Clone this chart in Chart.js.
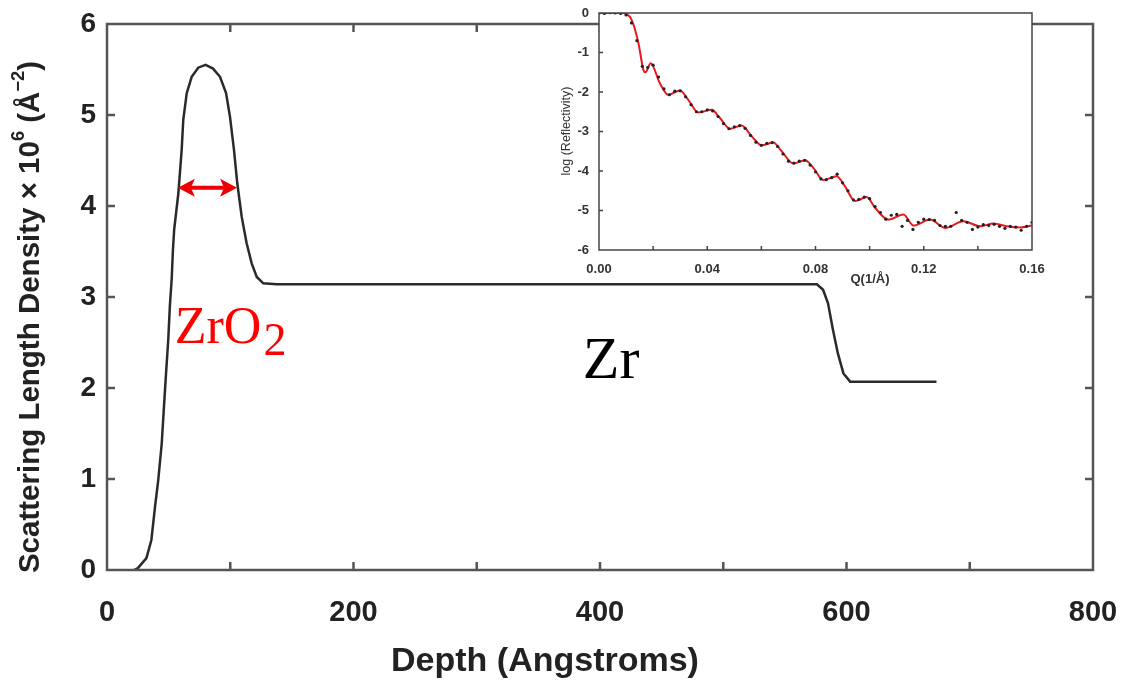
<!DOCTYPE html>
<html>
<head>
<meta charset="utf-8">
<script src="https://cdn.jsdelivr.net/npm/chart.js@4.4.1/dist/chart.umd.min.js"></script>
<style>
  html, body { margin: 0; padding: 0; background: #fff; }
  #wrap { position: relative; width: 1122px; height: 686px; }
  #main { position: absolute; left: 0; top: 0; }
  #inset { position: absolute; left: 540px; top: 0; }
</style>
</head>
<body>
<div id="wrap">
  <canvas id="main" width="1122" height="686"></canvas>
  <canvas id="inset" width="530" height="295"></canvas>
</div>
<script>
// SLD profile (depth in Angstroms, SLD x 1e6)
const depth = [22, 25, 32, 36, 39, 41.6, 44.4, 46.2, 47.9, 49.7, 51, 52.5, 53.5, 54.5, 57.9, 60.6, 61.9, 64.7, 68.7, 74, 80, 86, 91.7, 96.6, 99.8, 103, 105.7, 109.3, 113.3, 117.4, 121.5, 126.8, 137.7, 576, 581, 585, 589, 593, 597.5, 603, 673];
const sld = [0, 0.02, 0.13, 0.33, 0.70, 0.99, 1.39, 1.79, 2.16, 2.53, 2.9, 3.2, 3.52, 3.74, 4.14, 4.62, 4.95, 5.24, 5.42, 5.52, 5.55, 5.51, 5.42, 5.24, 4.98, 4.62, 4.25, 3.88, 3.59, 3.37, 3.22, 3.15, 3.14, 3.14, 3.08, 2.93, 2.64, 2.38, 2.16, 2.07, 2.07];

// inset: reflectivity data (black dots)
const qData = [0.000, 0.002, 0.004, 0.006, 0.008, 0.010, 0.012, 0.014, 0.016, 0.018, 0.020, 0.022, 0.024, 0.026, 0.028, 0.030, 0.032, 0.034, 0.036, 0.038, 0.040, 0.042, 0.044, 0.046, 0.048, 0.050, 0.052, 0.054, 0.056, 0.058, 0.060, 0.062, 0.064, 0.066, 0.068, 0.070, 0.072, 0.074, 0.076, 0.078, 0.080, 0.082, 0.084, 0.086, 0.088, 0.090, 0.092, 0.094, 0.096, 0.098, 0.100, 0.102, 0.104, 0.106, 0.108, 0.110, 0.112, 0.114, 0.116, 0.118, 0.120, 0.122, 0.124, 0.126, 0.128, 0.130, 0.132, 0.134, 0.136, 0.138, 0.140, 0.142, 0.144, 0.146, 0.148, 0.150, 0.152, 0.154, 0.156, 0.158, 0.160];
const logData = [0, -0.01, 0.01, 0, -0.01, -0.05, -0.25, -0.7, -1.35, -1.38, -1.32, -1.62, -1.92, -2.07, -1.98, -1.97, -2.12, -2.32, -2.50, -2.50, -2.45, -2.48, -2.62, -2.80, -2.93, -2.88, -2.85, -2.92, -3.10, -3.27, -3.35, -3.30, -3.28, -3.38, -3.57, -3.75, -3.80, -3.75, -3.73, -3.85, -4.02, -4.20, -4.22, -4.17, -4.08, -4.30, -4.50, -4.73, -4.72, -4.66, -4.70, -4.90, -5.05, -5.22, -5.12, -5.10, -5.40, -5.25, -5.48, -5.30, -5.22, -5.23, -5.25, -5.38, -5.40, -5.40, -5.05, -5.25, -5.30, -5.48, -5.42, -5.36, -5.38, -5.35, -5.40, -5.45, -5.40, -5.42, -5.50, -5.40, -5.30];

// inset: fit (red line)
const qFit = [0, 0.005, 0.009, 0.0121, 0.0146, 0.0164, 0.0172, 0.0191, 0.0225, 0.0256, 0.0299, 0.0330, 0.0367, 0.0416, 0.0447, 0.0484, 0.0527, 0.0564, 0.0601, 0.0644, 0.0675, 0.0718, 0.0761, 0.0792, 0.0829, 0.0878, 0.0909, 0.0946, 0.0989, 0.1020, 0.1069, 0.1125, 0.1162, 0.1224, 0.1279, 0.1347, 0.1409, 0.1458, 0.1507, 0.1557, 0.16];
const logFit = [0, 0.01, 0, -0.18, -0.77, -1.44, -1.50, -1.27, -1.78, -2.07, -1.96, -2.20, -2.52, -2.45, -2.66, -2.93, -2.85, -3.12, -3.35, -3.28, -3.50, -3.81, -3.73, -3.92, -4.23, -4.13, -4.39, -4.76, -4.66, -4.93, -5.23, -5.10, -5.38, -5.23, -5.44, -5.27, -5.40, -5.33, -5.40, -5.43, -5.38];

const SANS = 'Liberation Sans, Arial, sans-serif';
const SERIF = 'Liberation Serif, Times New Roman, serif';

// keep the plot box fixed: no automatic label overflow padding
const noPad = s => { s.paddingLeft = 0; s.paddingRight = 0; s.paddingTop = 0; s.paddingBottom = 0; };

// frame with inward ticks
function makeFrame(id, color, width, len, sides) {
  return {
    id,
    afterDatasetsDraw(chart) {
      const { ctx, chartArea: a, scales } = chart;
      ctx.save();
      ctx.strokeStyle = color;
      ctx.lineWidth = width;
      ctx.strokeRect(a.left, a.top, a.right - a.left, a.bottom - a.top);
      ctx.beginPath();
      scales.x.ticks.forEach(t => {
        const px = scales.x.getPixelForValue(t.value);
        if (px <= a.left + 1 || px >= a.right - 1) return;
        if (sides.includes('b')) { ctx.moveTo(px, a.bottom); ctx.lineTo(px, a.bottom - len); }
        if (sides.includes('t')) { ctx.moveTo(px, a.top); ctx.lineTo(px, a.top + len); }
      });
      scales.y.ticks.forEach(t => {
        const py = scales.y.getPixelForValue(t.value);
        if (py <= a.top + 1 || py >= a.bottom - 1) return;
        if (sides.includes('l')) { ctx.moveTo(a.left, py); ctx.lineTo(a.left + len, py); }
        if (sides.includes('r')) { ctx.moveTo(a.right, py); ctx.lineTo(a.right - len, py); }
      });
      ctx.stroke();
      ctx.restore();
    }
  };
}

// rotated title with superscripts
function drawVTitle(ctx, cx, cy, parts, size) {
  ctx.save();
  ctx.translate(cx, cy);
  ctx.rotate(-Math.PI / 2);
  let total = 0;
  parts.forEach(p => {
    ctx.font = `bold ${p.sup ? size * 0.62 : size}px ${SANS}`;
    p.w = ctx.measureText(p.t).width;
    total += p.w;
  });
  let x = -total / 2;
  ctx.textBaseline = 'middle';
  parts.forEach(p => {
    ctx.font = `bold ${p.sup ? size * 0.62 : size}px ${SANS}`;
    ctx.fillText(p.t, x, p.sup ? -size * 0.42 : 0);
    x += p.w;
  });
  ctx.restore();
}

const mainNotes = {
  id: 'mainNotes',
  afterDraw(chart) {
    const { ctx, scales: { x, y } } = chart;
    ctx.save();
    ctx.fillStyle = '#222';
    drawVTitle(ctx, 31, 317, [
      { t: 'Scattering Length Density \u00d7 10' },
      { t: '6', sup: true },
      { t: ' (\u00c5' },
      { t: '\u22122', sup: true },
      { t: ')' }
    ], 29.5);
    ctx.font = `bold 34px ${SANS}`;
    ctx.textAlign = 'center';
    ctx.textBaseline = 'middle';
    ctx.fillText('Depth (Angstroms)', 545, 662);

    // ZrO2 label
    ctx.textAlign = 'left';
    ctx.textBaseline = 'alphabetic';
    ctx.fillStyle = '#ff0000';
    ctx.font = `52px ${SERIF}`;
    const zx = x.getPixelForValue(55), zy = y.getPixelForValue(2.49);
    ctx.fillText('ZrO', zx, zy);
    const w = ctx.measureText('ZrO').width;
    ctx.font = `46px ${SERIF}`;
    ctx.fillText('2', zx + w + 2, zy + 12);

    // Zr label
    ctx.fillStyle = '#000';
    ctx.font = `60px ${SERIF}`;
    ctx.fillText('Zr', x.getPixelForValue(386), y.getPixelForValue(2.11));

    // double arrow
    const x1 = x.getPixelForValue(57.5), x2 = x.getPixelForValue(105.5), ay = y.getPixelForValue(4.2);
    ctx.strokeStyle = '#ee0000';
    ctx.fillStyle = '#ee0000';
    ctx.lineWidth = 4;
    ctx.beginPath();
    ctx.moveTo(x1 + 10, ay); ctx.lineTo(x2 - 10, ay);
    ctx.stroke();
    const head = (tip, dir) => {
      ctx.beginPath();
      ctx.moveTo(tip, ay);
      ctx.lineTo(tip + dir * 17, ay - 9);
      ctx.lineTo(tip + dir * 13, ay);
      ctx.lineTo(tip + dir * 17, ay + 9);
      ctx.closePath();
      ctx.fill();
    };
    head(x1, 1);
    head(x2, -1);
    ctx.restore();
  }
};

new Chart(document.getElementById('main'), {
  type: 'line',
  data: {
    datasets: [{
      data: depth.map((d, i) => ({ x: d, y: sld[i] })),
      borderColor: '#2a2a2a',
      borderWidth: 2.5,
      pointRadius: 0,
      fill: false,
      tension: 0
    }]
  },
  options: {
    responsive: false,
    animation: false,
    layout: { padding: { top: 24, right: 29, left: 0, bottom: 0 } },
    plugins: { legend: { display: false }, tooltip: { enabled: false } },
    scales: {
      x: {
        type: 'linear', min: 0, max: 800,
        grid: { display: false, drawTicks: false },
        border: { display: false },
        ticks: {
          stepSize: 100, autoSkip: false, maxRotation: 0, padding: 26,
          callback: v => (v % 200 === 0 ? v : ''),
          font: { family: SANS, size: 29, weight: 'bold' }, color: '#222'
        },
        afterFit: s => { s.height = 116; noPad(s); }
      },
      y: {
        min: 0, max: 6,
        grid: { display: false, drawTicks: false },
        border: { display: false },
        ticks: {
          stepSize: 1, padding: 11,
          font: { family: SANS, size: 28, weight: 'bold' }, color: '#222'
        },
        afterFit: s => { s.width = 107; noPad(s); }
      }
    }
  },
  plugins: [makeFrame('mainFrame', '#555', 2.5, 8, 'btlr'), mainNotes]
});

const insetBg = {
  id: 'insetBg',
  beforeDraw(chart) {
    const { ctx, chartArea: a } = chart;
    ctx.save();
    ctx.fillStyle = '#fff';
    ctx.fillRect(a.left, a.top, a.right - a.left, a.bottom - a.top);
    ctx.restore();
  },
  afterDraw(chart) {
    const { ctx } = chart;
    ctx.save();
    ctx.fillStyle = '#333';
    ctx.font = `12.5px ${SANS}`;
    ctx.translate(27, 131);
    ctx.rotate(-Math.PI / 2);
    ctx.textAlign = 'center';
    ctx.textBaseline = 'middle';
    ctx.fillText('log (Reflectivity)', 0, 0);
    ctx.restore();
    ctx.save();
    ctx.fillStyle = '#333';
    ctx.font = `bold 13px ${SANS}`;
    ctx.textAlign = 'center';
    ctx.textBaseline = 'middle';
    ctx.fillText('Q(1/\u00c5)', 330, 279);
    ctx.restore();
  }
};

new Chart(document.getElementById('inset'), {
  type: 'line',
  data: {
    datasets: [
      {
        data: qData.map((q, i) => ({ x: q, y: logData[i] })),
        showLine: false,
        pointRadius: 1.6,
        pointBackgroundColor: '#222',
        pointBorderWidth: 0,
        order: 0
      },
      {
        data: qFit.map((q, i) => ({ x: q, y: logFit[i] })),
        borderColor: '#e8191e',
        borderWidth: 2,
        pointRadius: 0,
        cubicInterpolationMode: 'monotone',
        fill: false,
        order: 1
      }
    ]
  },
  options: {
    responsive: false,
    animation: false,
    layout: { padding: { top: 13, right: 38, left: 0, bottom: 0 } },
    plugins: { legend: { display: false }, tooltip: { enabled: false } },
    scales: {
      x: {
        type: 'linear', min: 0, max: 0.16,
        grid: { display: false, drawTicks: false },
        border: { display: false },
        ticks: {
          stepSize: 0.02, autoSkip: false, maxRotation: 0, padding: 12,
          callback: v => (Math.round(v * 100) % 4 === 0 ? v.toFixed(2) : ''),
          font: { family: SANS, size: 13, weight: 'bold' }, color: '#333'
        },
        afterFit: s => { s.height = 45; noPad(s); }
      },
      y: {
        min: -6, max: 0,
        grid: { display: false, drawTicks: false },
        border: { display: false },
        ticks: {
          stepSize: 1, padding: 10,
          font: { family: SANS, size: 13, weight: 'bold' }, color: '#333'
        },
        afterFit: s => { s.width = 59; noPad(s); }
      }
    }
  },
  plugins: [insetBg, makeFrame('insetFrame', '#444', 1.5, 4, 'bl')]
});
</script>
</body>
</html>
